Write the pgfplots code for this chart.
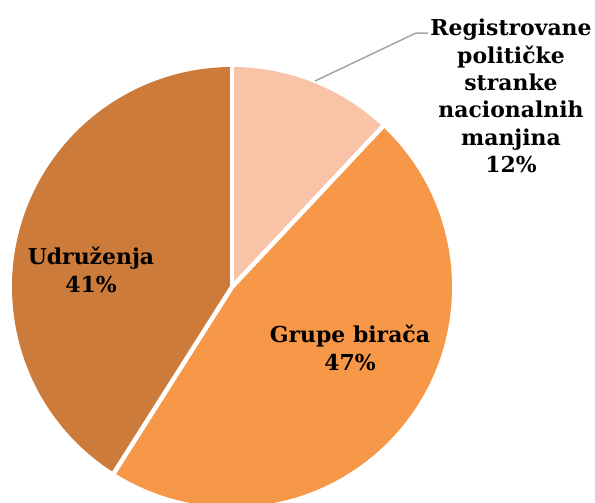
\documentclass[border=0pt]{standalone}
\usepackage{pgfplots}
\usepackage{pgfplotstable}
\pgfplotsset{compat=1.18}
\usepackage{fontspec}
\setmainfont{DejaVu Serif}
\definecolor{cA}{RGB}{249,195,168}
\definecolor{cB}{RGB}{247,151,72}
\definecolor{cC}{RGB}{204,123,58}
\definecolor{lead}{RGB}{165,165,165}
\pgfplotstableread{
name value
Registrovane 12
Grupe 47
Udruzenja 41
}\piedata
\pgfplotstablegetelem{0}{value}\of\piedata \let\vA\pgfplotsretval
\pgfplotstablegetelem{1}{value}\of\piedata \let\vB\pgfplotsretval
\pgfplotstablegetelem{2}{value}\of\piedata \let\vC\pgfplotsretval
\pgfmathsetmacro{\aO}{90}
\pgfmathsetmacro{\aA}{90-3.6*\vA}
\pgfmathsetmacro{\aB}{\aA-3.6*\vB}
\pgfmathsetmacro{\aC}{\aB-3.6*\vC}
\def\R{220bp}
\begin{document}
\begin{tikzpicture}
\begin{axis}[
  x=1bp, y=1bp, y dir=reverse,
  xmin=0, xmax=595, ymin=0, ymax=503,
  enlargelimits=false, hide axis, clip=false,
  anchor=south west, at={(0,0)},
]
\fill[cA] (axis cs:232,287) -- ++(\aO:\R) arc[start angle=\aO, end angle=\aA, radius=\R] -- cycle;
\fill[cB] (axis cs:232,287) -- ++(\aA:\R) arc[start angle=\aA, end angle=\aB, radius=\R] -- cycle;
\fill[cC] (axis cs:232,287) -- ++(\aB:\R) arc[start angle=\aB, end angle=\aC, radius=\R] -- cycle;
\draw[white, line width=4.5bp] (axis cs:232,287) -- ++(\aO:\R+5bp);
\draw[white, line width=4.5bp] (axis cs:232,287) -- ++(\aA:\R+5bp);
\draw[white, line width=4.5bp] (axis cs:232,287) -- ++(\aB:\R+5bp);
\draw[lead, line width=1.5bp] (axis cs:315,81) -- (axis cs:416,33) -- (axis cs:428,33);
\node[align=center, font=\fontsize{22}{27.4}\selectfont\bfseries, inner sep=0pt]
  at (axis cs:511,96) {Registrovane\\politi\v{c}ke\\stranke\\nacionalnih\\manjina\\12\%};
\node[align=center, font=\fontsize{22}{28.5}\selectfont\bfseries, inner sep=0pt]
  at (axis cs:91,270) {Udru\v{z}enja\\41\%};
\node[align=center, font=\fontsize{22}{28.5}\selectfont\bfseries, inner sep=0pt]
  at (axis cs:350,348) {Grupe bira\v{c}a\\47\%};
\end{axis}
\pgfresetboundingbox
\path[use as bounding box] (0,0) rectangle (595bp,503bp);
\end{tikzpicture}
\end{document}
